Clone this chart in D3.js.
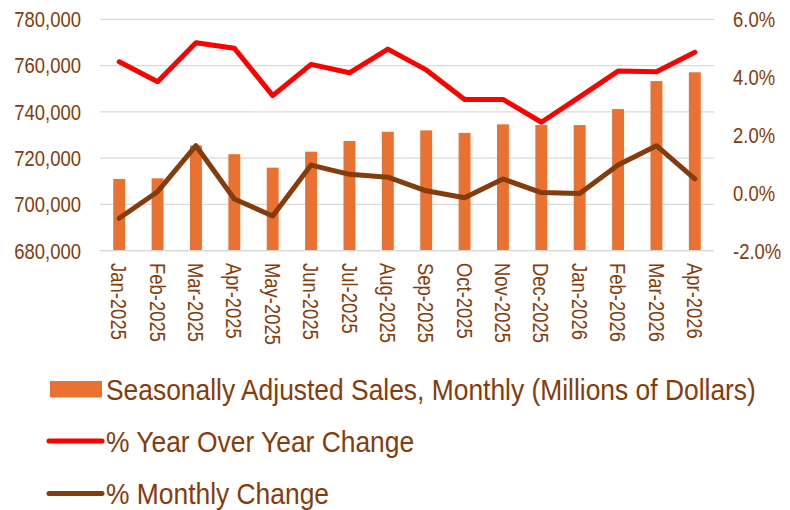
<!DOCTYPE html>
<html><head><meta charset="utf-8">
<script src="https://cdn.jsdelivr.net/npm/d3@7"></script>
<style>
body{margin:0;background:#fff;}
svg text{font-family:"Liberation Sans Narrow","Arial Narrow","Liberation Sans",Arial,sans-serif;fill:#843C0C;}
</style></head>
<body><svg id="c" width="790" height="510"></svg>
<script>
const months = ["Jan-2025","Feb-2025","Mar-2025","Apr-2025","May-2025","Jun-2025","Jul-2025","Aug-2025","Sep-2025","Oct-2025","Nov-2025","Dec-2025","Jan-2026","Feb-2026","Mar-2026","Apr-2026"];
const sales = [711000,711300,725500,721700,715900,722800,727400,731400,732000,730900,734600,734300,734300,741200,753300,757100];
const yoyPct = [4.53,3.84,5.19,5.00,3.36,4.44,4.15,4.97,4.25,3.23,3.23,2.44,3.32,4.21,4.19,4.86];
const momPct = [-0.88,0.04,1.63,-0.21,-0.80,0.96,0.64,0.54,0.07,-0.17,0.48,0.01,-0.02,0.96,1.63,0.48];
const leftTicks = [680000,700000,720000,740000,760000,780000];
const rightTicks = [-2,0,2,4,6];
const legendLabels = ["Seasonally Adjusted Sales, Monthly (Millions of Dollars)","% Year Over Year Change","% Monthly Change"];

const svg = d3.select("#c");
const L=100,R=714,T=19.3,B=250.7;
const x = d3.scaleBand().domain(months).range([L,R]).paddingInner(0.69).paddingOuter(0.345);
const xc = d=>x(d)+x.bandwidth()/2;
const yL = d3.scaleLinear().domain([680000,780000]).range([B,T]);
const yR = d3.scaleLinear().domain([-2,6]).range([B,T]);
const K = 0.82; // horizontal condensing to mimic a narrow face

svg.append("g").selectAll("line").data(leftTicks).join("line")
 .attr("x1",L).attr("x2",R).attr("y1",d=>yL(d)).attr("y2",d=>yL(d))
 .attr("stroke","#D9D9D9").attr("stroke-width",1.3);

svg.append("g").selectAll("rect").data(sales).join("rect")
 .attr("x",(d,i)=>x(months[i])).attr("width",x.bandwidth())
 .attr("y",d=>yL(d)).attr("height",d=>B-yL(d)).attr("fill","#E97132");

svg.append("line").attr("x1",L).attr("x2",R).attr("y1",B).attr("y2",B).attr("stroke","#D9D9D9").attr("stroke-width",1.3);

const line = d3.line().x((d,i)=>xc(months[i])).y(d=>yR(d));
svg.append("path").datum(yoyPct).attr("d",line).attr("fill","none").attr("stroke","#FF0000").attr("stroke-width",5).attr("stroke-linejoin","round").attr("stroke-linecap","round");
svg.append("path").datum(momPct).attr("d",line).attr("fill","none").attr("stroke","#843C0C").attr("stroke-width",5).attr("stroke-linejoin","round").attr("stroke-linecap","round");

const fmt = d3.format(",");
svg.append("g").selectAll("text").data(leftTicks).join("text")
 .attr("transform",d=>`translate(81,${yL(d)}) scale(${K},1)`)
 .attr("dy","0.35em").attr("text-anchor","end")
 .style("font-size","22.5px").text(d=>fmt(d));
svg.append("g").selectAll("text").data(rightTicks).join("text")
 .attr("transform",d=>`translate(733,${yR(d)}) scale(${K},1)`)
 .attr("dy","0.35em").attr("text-anchor","start")
 .style("font-size","22.5px").text(d=>d.toFixed(1)+"%");
svg.append("g").selectAll("text").data(months).join("text")
 .attr("transform",d=>`translate(${xc(d)},263) rotate(90) scale(${K},1)`)
 .attr("dy","0.35em").attr("text-anchor","start")
 .style("font-size","22.5px").text(d=>d);

const lg = svg.append("g");
lg.append("rect").attr("x",50).attr("y",381).attr("width",52).attr("height",16.5).attr("fill","#E97132");
lg.append("line").attr("x1",49).attr("x2",102).attr("y1",441).attr("y2",441).attr("stroke","#FF0000").attr("stroke-width",5).attr("stroke-linecap","round");
lg.append("line").attr("x1",49).attr("x2",102).attr("y1",493.5).attr("y2",493.5).attr("stroke","#843C0C").attr("stroke-width",5).attr("stroke-linecap","round");
const lt = lg.selectAll("text").data(legendLabels).join("text")
 .attr("dy","0.35em").style("font-size","30px").text(d=>d);
const kL = 650/lt.node().getComputedTextLength();
lt.attr("transform",(d,i)=>`translate(106,${[389,441,493.5][i]}) scale(${kL},1)`);
</script></body></html>
